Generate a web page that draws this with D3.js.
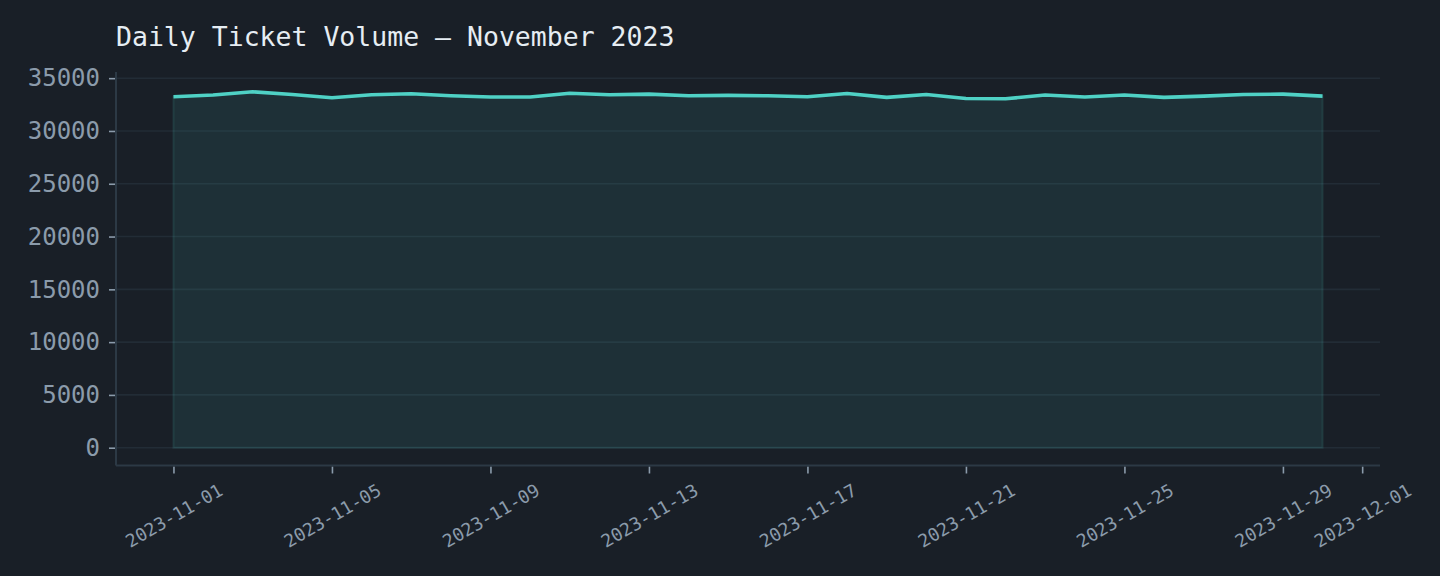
<!DOCTYPE html>
<html>
<head>
<meta charset="utf-8">
<script src="https://cdn.jsdelivr.net/npm/d3@7"></script>
<style>
  html, body { margin: 0; padding: 0; background: #191f27; }
  svg { display: block; }
</style>
</head>
<body>
<div id="chart"></div>
<script>
// DATA
const days = d3.range(1, 31).map(d => `2023-11-${String(d).padStart(2, '0')}`);
const tickets = [
    33240, 33400, 33710, 33460, 33140, 33430, 33520, 33330, 33210, 33210,
    33570, 33430, 33490, 33330, 33370, 33330, 33240, 33550, 33180, 33460,
    33080, 33050, 33400, 33210, 33400, 33180, 33300, 33460, 33490, 33300
];
const yTicks = [0, 5000, 10000, 15000, 20000, 25000, 30000, 35000];
const xTickLabels = ['2023-11-01', '2023-11-05', '2023-11-09', '2023-11-13', '2023-11-17',
                     '2023-11-21', '2023-11-25', '2023-11-29', '2023-12-01'];
const title = 'Daily Ticket Volume — November 2023';

const parse = d3.utcParse('%Y-%m-%d');
const data = days.map((d, i) => ({ date: parse(d), value: tickets[i] }));

//DIMENSION
const width = 1440, height = 576;
const margin = { top: 74, right: 60, bottom: 110.5, left: 116 };
const innerW = width - margin.left - margin.right;
const innerH = height - margin.top - margin.bottom;

const font = '"DejaVu Sans Mono", monospace';
const tickColor = '#8b9bab';
const spineColor = '#2c3945';
const gridColor = '#222c36';
const lineColor = '#4fd1c5';

const svg = d3.select('#chart').append('svg')
    .attr('width', width)
    .attr('height', height);

svg.append('rect').attr('width', width).attr('height', height).attr('fill', '#191f27');

const g = svg.append('g').attr('transform', `translate(${margin.left},${margin.top})`);

//X SCALE (matplotlib style 5% margins)
const [x0, x1] = d3.extent(data, d => d.date);
const xPad = (x1 - x0) * 0.05;
const xScale = d3.scaleUtc()
    .domain([new Date(+x0 - xPad), new Date(+x1 + xPad)])
    .range([0, innerW]);

//Y SCALE
const yMax = d3.max(tickets);
const yPad = yMax * 0.05;
const yScale = d3.scaleLinear()
    .domain([-yPad, yMax + yPad])
    .range([innerH, 0]);

//GRID
g.append('g')
    .selectAll('line')
    .data(yTicks)
    .join('line')
        .attr('x1', 0).attr('x2', innerW)
        .attr('y1', d => yScale(d)).attr('y2', d => yScale(d))
        .attr('stroke', gridColor)
        .attr('stroke-width', 1.6);

//AREA + LINE
const area = d3.area()
    .x(d => xScale(d.date))
    .y0(yScale(0))
    .y1(d => yScale(d.value));

g.append('path')
    .datum(data)
    .attr('d', area)
    .attr('fill', lineColor)
    .attr('fill-opacity', 0.1)
    .attr('stroke', lineColor)
    .attr('stroke-opacity', 0.12)
    .attr('stroke-width', 2);

const line = d3.line()
    .x(d => xScale(d.date))
    .y(d => yScale(d.value));

g.append('path')
    .datum(data)
    .attr('d', line)
    .attr('fill', 'none')
    .attr('stroke', lineColor)
    .attr('stroke-width', 3.6)
    .attr('stroke-linejoin', 'round');

//Y AXIS
const yAxisG = g.append('g')
    .call(d3.axisLeft(yScale).tickValues(yTicks).tickSize(7).tickPadding(9).tickFormat(d3.format('d')));
yAxisG.select('.domain').remove();
yAxisG.selectAll('.tick line').attr('stroke', tickColor).attr('stroke-width', 1.6);
yAxisG.selectAll('.tick text')
    .attr('fill', tickColor)
    .attr('font-family', font)
    .attr('font-size', 24);

//X AXIS
const xTickDates = xTickLabels.map(parse);
const xAxisG = g.append('g')
    .attr('transform', `translate(0,${innerH})`)
    .call(d3.axisBottom(xScale).tickValues(xTickDates).tickSize(7).tickFormat(d3.utcFormat('%Y-%m-%d')));
xAxisG.select('.domain').remove();
xAxisG.selectAll('.tick line').attr('stroke', tickColor).attr('stroke-width', 1.6).attr('y1', 1).attr('y2', 8);
xAxisG.selectAll('.tick text')
    .attr('fill', tickColor)
    .attr('font-family', font)
    .attr('font-size', 18)
    .attr('text-anchor', 'middle')
    .attr('dominant-baseline', 'central')
    .attr('y', 0).attr('dy', 0)
    .attr('transform', 'translate(0,50) rotate(-30)');

//SPINES
g.append('line')
    .attr('x1', 0).attr('x2', 0).attr('y1', -2).attr('y2', innerH)
    .attr('stroke', spineColor).attr('stroke-width', 2);
g.append('line')
    .attr('x1', 0).attr('x2', innerW).attr('y1', innerH).attr('y2', innerH)
    .attr('stroke', spineColor).attr('stroke-width', 2);

//TITLE
svg.append('text')
    .attr('x', margin.left)
    .attr('y', 46)
    .attr('fill', '#e6edf3')
    .attr('font-family', font)
    .attr('font-size', 26.5)
    .text(title);
</script>
</body>
</html>
